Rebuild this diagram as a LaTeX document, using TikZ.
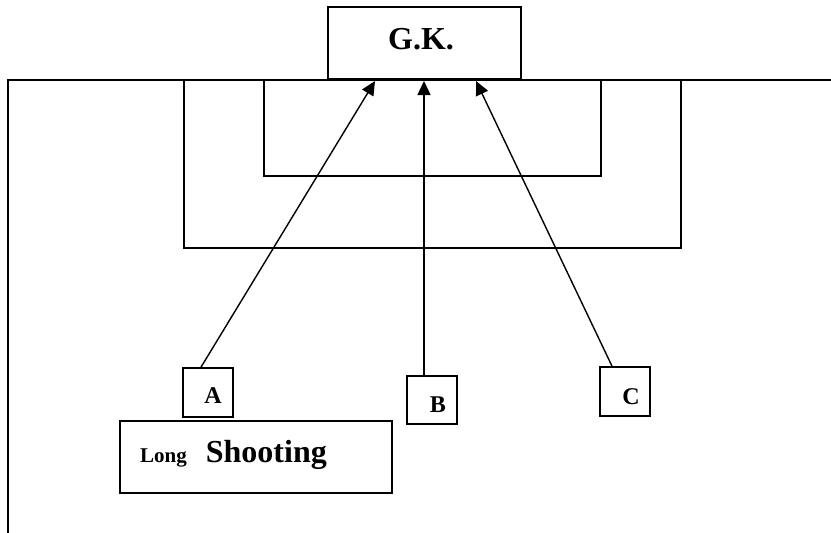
\documentclass[tikz,border=0pt]{standalone}
\usepackage{fontspec}
\setmainfont{Liberation Serif}
\usetikzlibrary{arrows.meta}
\begin{document}
\begin{tikzpicture}[x=1pt,y=-1pt,
  line/.style={draw=black,line width=1.7pt},
  box/.style={draw=black,line width=1.7pt,fill=white,inner sep=0pt,rectangle},
  lbl/.style={inner sep=0pt,anchor=base,font=\bfseries\fontsize{24}{28}\selectfont},
  shot/.style={draw=black,line width=1.4pt,-{Triangle[length=14pt,width=13pt]}}
]
\useasboundingbox (0,0) rectangle (831,533);
% field
\coordinate (tl) at (8,80);
\coordinate (tr) at (831,80);
\coordinate (bl) at (8,533);
\draw[line] (tr) -- (tl) -- (bl);
\coordinate (pa1) at (184,80);
\coordinate (pa2) at (681,248);
\draw[line] (pa1) |- (pa2) -- (681,80);
\coordinate (ga1) at (264,80);
\coordinate (ga2) at (601,176);
\draw[line] (ga1) |- (ga2) -- (601,80);
% goalkeeper
\node[box,minimum width=193pt,minimum height=72pt] (gk) at (424.5,43) {};
\node[lbl,font=\bfseries\fontsize{32}{38}\selectfont] (gkt) at (421,49) {G.K.};
% players
\node[box,minimum width=50pt,minimum height=49pt] (a) at (208,392.5) {};
\node[lbl] (at) at (213,403) {A};
\node[box,minimum width=50pt,minimum height=48pt] (b) at (432,400) {};
\node[lbl] (bt) at (438,412) {B};
\node[box,minimum width=50pt,minimum height=49pt] (c) at (625,391.5) {};
\node[lbl] (ct) at (631,404) {C};
% long shooting
\node[box,minimum width=272pt,minimum height=72pt] (ls) at (256,457) {};
\node[inner sep=0pt,anchor=base west,font=\bfseries] (lst) at (140,462)
  {{\fontsize{21}{25}\selectfont Long}\hspace*{19pt}{\fontsize{32}{38}\selectfont Shooting}};
% shots
\coordinate (ta) at (375,81);
\coordinate (tb) at (424,81);
\coordinate (tc) at (476,81);
\draw[shot] (a.north -| 201,0) -- (ta);
\draw[shot] (b.north -| 424,0) -- (tb);
\draw[shot] (c.north -| 612,0) -- (tc);
\end{tikzpicture}
\end{document}
